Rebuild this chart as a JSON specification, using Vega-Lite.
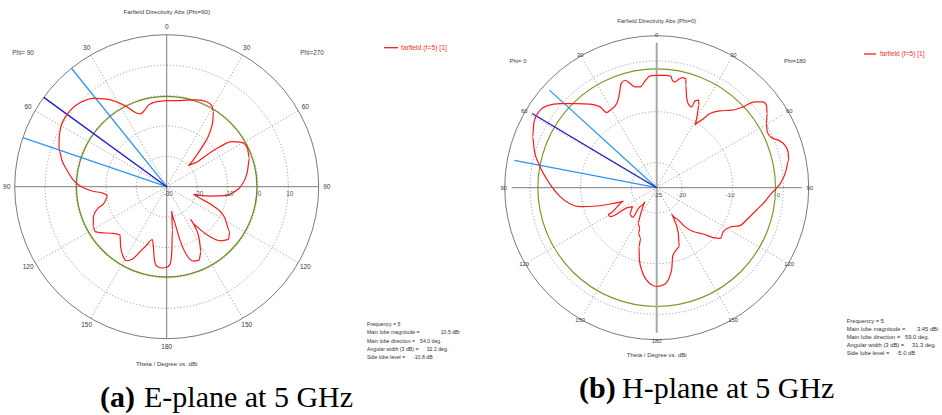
{
  "$schema": "https://vega.github.io/schema/vega-lite/v6.json",
  "padding": 0,
  "spacing": 0,
  "bounds": "flush",
  "background": "white",
  "config": {"view": {"stroke": null}, "font": "Liberation Sans"},
  "datasets": {
    "patA": [
      {"a":0,"db":-1.7},{"a":6.7,"db":-1.84},{"a":12.7,"db":-2.5},{"a":17.3,"db":-4.2},{"a":20.1,"db":-4.5},{"a":23.1,"db":-3.4},{"a":25.9,"db":-1.1},{"a":29.2,"db":1.4},{"a":34.4,"db":4.9},{"a":39.7,"db":7.8},{"a":45,"db":9.5},{"a":50.5,"db":10.4},{"a":54,"db":10.5},{"a":57,"db":10.4},{"a":60.4,"db":10.0},{"a":65.8,"db":8.8},{"a":71.2,"db":7.4},{"a":75.7,"db":5.6},{"a":80.5,"db":3.3},{"a":85.9,"db":0.8},{"a":90,"db":-2.0},{"a":93.3,"db":-5.3},{"a":96,"db":-9.1},{"a":98.5,"db":-10.4},{"a":103.7,"db":-9.1},{"a":108.4,"db":-5.7},{"a":112,"db":-4.0},{"a":118.6,"db":-2.5},{"a":122.1,"db":-2.2},{"a":124.6,"db":-3.4},{"a":131.2,"db":-6.7},{"a":136,"db":-7.9},{"a":142.5,"db":-5.1},{"a":148.2,"db":-2.9},{"a":151.6,"db":-2.3},{"a":155.1,"db":-4.0},{"a":157.7,"db":-6.9},{"a":161.1,"db":-9.7},{"a":164.8,"db":-12.0},{"a":167.5,"db":-9.8},{"a":170.5,"db":-5.5},{"a":172.8,"db":-3.7},{"a":176.5,"db":-3.2},{"a":180,"db":-3.5},{"a":182.5,"db":-4.5},{"a":184.3,"db":-8.0},{"a":187.5,"db":-15.6},{"a":191.6,"db":-21.8},{"a":192.8,"db":-17.6},{"a":194,"db":-11.9},{"a":196.3,"db":-6.6},{"a":199.7,"db":-4.0},{"a":203.8,"db":-3.6},{"a":207.8,"db":-5.8},{"a":211.5,"db":-9.4},{"a":215.3,"db":-13.9},{"a":216.3,"db":-16.7},{"a":218,"db":-12.2},{"a":220.9,"db":-8.2},{"a":224.6,"db":-5.0},{"a":229.5,"db":-3.3},{"a":234.6,"db":-4.5},{"a":241.5,"db":-8.2},{"a":247.5,"db":-13.4},{"a":250.7,"db":-18.4},{"a":254,"db":-20.9},{"a":257.8,"db":-15.4},{"a":261.2,"db":-10.6},{"a":265.1,"db":-8.0},{"a":271.3,"db":-5.3},{"a":280.5,"db":-3.0},{"a":288.9,"db":-1.25},{"a":295.4,"db":-0.6},{"a":300.6,"db":-1.3},{"a":304.7,"db":-4.0},{"a":306.9,"db":-8.1},{"a":308.4,"db":-13.2},{"a":309.1,"db":-17.3},{"a":314.1,"db":-20.1},{"a":316.5,"db":-15.6},{"a":318.7,"db":-11.7},{"a":321.3,"db":-7.5},{"a":324.7,"db":-3.8},{"a":328.1,"db":-0.9},{"a":330.9,"db":0.5},{"a":334.8,"db":0.9},{"a":340.9,"db":0.2},{"a":347,"db":-0.8},{"a":353.4,"db":-1.5},{"a":360,"db":-1.7}
    ],
    "patB": [
      {"a":0,"db":-1.74},{"a":3.4,"db":-1.83},{"a":6.2,"db":-2.78},{"a":9.4,"db":-3.86},{"a":12.1,"db":-3.67},{"a":14.3,"db":-2.77},{"a":16.4,"db":-1.83},{"a":18.9,"db":-2.23},{"a":21.6,"db":-4.05},{"a":25.4,"db":-5.73},{"a":31,"db":-6.29},{"a":33.6,"db":-6.33},{"a":35,"db":-4.59},{"a":38.5,"db":-2.91},{"a":43.5,"db":-1.0},{"a":48.9,"db":1.48},{"a":53.1,"db":3.3},{"a":56.7,"db":4.0},{"a":61.8,"db":3.8},{"a":67.7,"db":2.75},{"a":72.9,"db":1.5},{"a":78.4,"db":-0.06},{"a":84.4,"db":-1.83},{"a":89.5,"db":-3.32},{"a":95.3,"db":-4.95},{"a":100.7,"db":-6.79},{"a":103.9,"db":-8.69},{"a":107,"db":-12.05},{"a":109.3,"db":-14.8},{"a":111.8,"db":-17.6},{"a":118.6,"db":-13.5},{"a":121.9,"db":-13.65},{"a":124.3,"db":-17.7},{"a":128.4,"db":-18.7},{"a":133.9,"db":-17.2},{"a":141,"db":-17.1},{"a":138.4,"db":-19.3},{"a":140.2,"db":-21.2},{"a":148,"db":-18.8},{"a":152,"db":-16.7},{"a":157.7,"db":-15.9},{"a":158.1,"db":-14.8},{"a":162.5,"db":-14.0},{"a":163.3,"db":-12.3},{"a":166.5,"db":-9.65},{"a":169.8,"db":-7.6},{"a":173.9,"db":-5.7},{"a":178.1,"db":-4.7},{"a":180,"db":-4.56},{"a":184.9,"db":-5.0},{"a":190.3,"db":-7.7},{"a":193.1,"db":-10.4},{"a":198,"db":-11.6},{"a":201,"db":-11.95},{"a":205.4,"db":-14.6},{"a":208.3,"db":-17.0},{"a":209.4,"db":-18.7},{"a":213.8,"db":-17.0},{"a":216,"db":-15.05},{"a":219.8,"db":-13.2},{"a":225.2,"db":-11.4},{"a":228.6,"db":-9.4},{"a":231.6,"db":-8.15},{"a":236.6,"db":-8.5},{"a":241.6,"db":-7.8},{"a":245.5,"db":-6.1},{"a":251.5,"db":-5.04},{"a":257.4,"db":-3.84},{"a":262.6,"db":-2.45},{"a":267.2,"db":-1.23},{"a":269.7,"db":-0.22},{"a":272.7,"db":0.84},{"a":277.1,"db":1.9},{"a":281.8,"db":2.91},{"a":285.3,"db":3.18},{"a":288.4,"db":2.92},{"a":291.4,"db":1.98},{"a":293.6,"db":0.92},{"a":296.8,"db":0.61},{"a":300.3,"db":1.31},{"a":303.9,"db":2.53},{"a":306.9,"db":3.41},{"a":308.9,"db":3.29},{"a":311.2,"db":1.97},{"a":313.1,"db":-0.51},{"a":316,"db":-2.71},{"a":320.6,"db":-4.41},{"a":324.3,"db":-6.1},{"a":326.4,"db":-8.2},{"a":328.5,"db":-9.83},{"a":330.8,"db":-7.8},{"a":332.9,"db":-5.83},{"a":334.4,"db":-4.93},{"a":336.2,"db":-5.37},{"a":336.6,"db":-6.78},{"a":338.6,"db":-6.67},{"a":341.8,"db":-5.21},{"a":344.1,"db":-2.96},{"a":345,"db":-1.63},{"a":346.7,"db":-1.59},{"a":348.7,"db":-2.19},{"a":350.2,"db":-2.79},{"a":351.7,"db":-2.54},{"a":352.7,"db":-1.76},{"a":355.8,"db":-1.68},{"a":360,"db":-1.74}
    ],
    "ringsA": [{"db":-20,"k":"grid"},{"db":-10,"k":"grid"},{"db":0,"k":"grid"},{"db":10,"k":"grid"},{"db":20,"k":"outer"},{"db":-0.3,"k":"sll"}],
    "ringsB": [{"db":-20,"k":"grid"},{"db":-10,"k":"grid"},{"db":0,"k":"grid"},{"db":5,"k":"outer"},{"db":-1.55,"k":"sll"}],
    "spokes": [{"a":30},{"a":60},{"a":120},{"a":150},{"a":210},{"a":240},{"a":300},{"a":330}],
    "axes": [{"a":0,"k":"v"},{"a":90,"k":"h"}],
    "lobesA": [{"a":38.8,"k":"3dB"},{"a":71.2,"k":"3dB"},{"a":54,"k":"main"}],
    "lobesB": [{"a":47.7,"k":"3dB"},{"a":79.1,"k":"3dB"},{"a":59.2,"k":"main"}],
    "angles": [{"a":0,"t":"0"},{"a":30,"t":"30"},{"a":60,"t":"60"},{"a":90,"t":"90"},{"a":120,"t":"120"},{"a":150,"t":"150"},{"a":180,"t":"180"},{"a":210,"t":"150"},{"a":240,"t":"120"},{"a":270,"t":"90"},{"a":300,"t":"60"},{"a":330,"t":"30"}],
    "radA": [{"db":-30,"t":"-30"},{"db":-20,"t":"-20"},{"db":-10,"t":"-10"},{"db":0,"t":"0"},{"db":10,"t":"10"}],
    "radB": [{"db":-25,"t":"-25"},{"db":-20,"t":"-20"},{"db":-10,"t":"-10"},{"db":0,"t":"0"}],
    "infoA": [{"t":"Frequency = 5"},{"t":"Main lobe magnitude ="},{"t":"Main lobe direction ="},{"t":"Angular width (3 dB) ="},{"t":"Side lobe level ="}],
    "infoB": [{"t":"Frequency = 5"},{"t":"Main lobe magnitude ="},{"t":"Main lobe direction ="},{"t":"Angular width (3 dB) ="},{"t":"Side lobe level ="}]
  },
  "hconcat": [
    {
      "width": 471, "height": 415,
      "layer": [
        {"data": {"name": "ringsA"}, "transform": [{"filter": "datum.k=='grid'"}, {"calculate": "(datum.db+30)/50", "as": "rn"}, {"calculate": "0", "as": "c"}],
         "mark": {"type": "point", "shape": "circle", "filled": false, "opacity": 1, "stroke": "#8C8C8C", "strokeWidth": 0.8, "strokeDash": [1.2, 2]},
         "encoding": {"x": {"field": "c", "type": "quantitative", "scale": {"domain": [-1.0967, 2.002], "nice": false, "zero": false}, "axis": null}, "y": {"field": "c", "type": "quantitative", "scale": {"domain": [-1.502, 1.2283], "nice": false, "zero": false}, "axis": null}, "size": {"field": "rn", "type": "quantitative", "scale": {"type": "pow", "exponent": 2, "domain": [0, 1], "range": [0, 92416]}, "legend": null}}},
        {"data": {"name": "spokes"}, "transform": [{"calculate": "0", "as": "c"}, {"calculate": "-sin(datum.a*PI/180)", "as": "ex"}, {"calculate": "cos(datum.a*PI/180)", "as": "ey"}],
         "mark": {"type": "rule", "stroke": "#8C8C8C", "strokeWidth": 0.8, "strokeDash": [1.2, 2]},
         "encoding": {"x": {"field": "c", "type": "quantitative", "scale": {"domain": [-1.0967, 2.002], "nice": false, "zero": false}, "axis": null}, "y": {"field": "c", "type": "quantitative", "scale": {"domain": [-1.502, 1.2283], "nice": false, "zero": false}, "axis": null}, "x2": {"field": "ex"}, "y2": {"field": "ey"}}},
        {"data": {"name": "ringsA"}, "transform": [{"filter": "datum.k=='sll'"}, {"calculate": "(datum.db+30)/50", "as": "rn"}, {"calculate": "0", "as": "c"}],
         "mark": {"type": "point", "shape": "circle", "filled": false, "opacity": 1, "stroke": "#6B8E23", "strokeWidth": 1.3},
         "encoding": {"x": {"field": "c", "type": "quantitative", "scale": {"domain": [-1.0967, 2.002], "nice": false, "zero": false}, "axis": null}, "y": {"field": "c", "type": "quantitative", "scale": {"domain": [-1.502, 1.2283], "nice": false, "zero": false}, "axis": null}, "size": {"field": "rn", "type": "quantitative", "scale": {"type": "pow", "exponent": 2, "domain": [0, 1], "range": [0, 92416]}, "legend": null}}},
        {"data": {"name": "ringsA"}, "transform": [{"filter": "datum.k=='outer'"}, {"calculate": "(datum.db+30)/50", "as": "rn"}, {"calculate": "0", "as": "c"}],
         "mark": {"type": "point", "shape": "circle", "filled": false, "opacity": 1, "stroke": "#7A7A7A", "strokeWidth": 1},
         "encoding": {"x": {"field": "c", "type": "quantitative", "scale": {"domain": [-1.0967, 2.002], "nice": false, "zero": false}, "axis": null}, "y": {"field": "c", "type": "quantitative", "scale": {"domain": [-1.502, 1.2283], "nice": false, "zero": false}, "axis": null}, "size": {"field": "rn", "type": "quantitative", "scale": {"type": "pow", "exponent": 2, "domain": [0, 1], "range": [0, 92416]}, "legend": null}}},
        {"data": {"name": "axes"}, "transform": [{"calculate": "sin(datum.a*PI/180)", "as": "sx"}, {"calculate": "-cos(datum.a*PI/180)", "as": "sy"}, {"calculate": "-sin(datum.a*PI/180)", "as": "ex"}, {"calculate": "cos(datum.a*PI/180)", "as": "ey"}],
         "mark": {"type": "rule", "stroke": "#7A7A7A", "strokeWidth": 1},
         "encoding": {"x": {"field": "sx", "type": "quantitative", "scale": {"domain": [-1.0967, 2.002], "nice": false, "zero": false}, "axis": null}, "y": {"field": "sy", "type": "quantitative", "scale": {"domain": [-1.502, 1.2283], "nice": false, "zero": false}, "axis": null}, "x2": {"field": "ex"}, "y2": {"field": "ey"}}},
        {"data": {"name": "lobesA"}, "transform": [{"calculate": "0", "as": "c"}, {"calculate": "-sin(datum.a*PI/180)", "as": "ex"}, {"calculate": "cos(datum.a*PI/180)", "as": "ey"}],
         "mark": {"type": "rule", "strokeWidth": 1.3},
         "encoding": {"x": {"field": "c", "type": "quantitative", "scale": {"domain": [-1.0967, 2.002], "nice": false, "zero": false}, "axis": null}, "y": {"field": "c", "type": "quantitative", "scale": {"domain": [-1.502, 1.2283], "nice": false, "zero": false}, "axis": null}, "x2": {"field": "ex"}, "y2": {"field": "ey"}, "color": {"field": "k", "type": "nominal", "scale": {"domain": ["3dB", "main"], "range": ["#2E96F0", "#1A1ACD"]}, "legend": null}}},
        {"data": {"name": "patA"}, "transform": [{"window": [{"op": "row_number", "as": "i"}]}, {"calculate": "(datum.db+30)/50", "as": "rn"}, {"calculate": "-datum.rn*sin(datum.a*PI/180)", "as": "x"}, {"calculate": "datum.rn*cos(datum.a*PI/180)", "as": "y"}],
         "mark": {"type": "line", "stroke": "#FF1A1A", "strokeWidth": 1.2, "interpolate": "monotone"},
         "encoding": {"x": {"field": "x", "type": "quantitative", "scale": {"domain": [-1.0967, 2.002], "nice": false, "zero": false}, "axis": null}, "y": {"field": "y", "type": "quantitative", "scale": {"domain": [-1.502, 1.2283], "nice": false, "zero": false}, "axis": null}, "order": {"field": "i", "type": "quantitative"}}},
        {"data": {"name": "angles"}, "transform": [{"calculate": "-1.053*sin(datum.a*PI/180)", "as": "x"}, {"calculate": "1.053*cos(datum.a*PI/180)", "as": "y"}],
         "mark": {"type": "text", "fontSize": 6.5, "color": "#3A3A3A", "align": "center", "baseline": "middle"},
         "encoding": {"x": {"field": "x", "type": "quantitative", "scale": {"domain": [-1.0967, 2.002], "nice": false, "zero": false}, "axis": null}, "y": {"field": "y", "type": "quantitative", "scale": {"domain": [-1.502, 1.2283], "nice": false, "zero": false}, "axis": null}, "text": {"field": "t", "type": "nominal"}}},
        {"data": {"name": "radA"}, "transform": [{"calculate": "(datum.db+30)/50", "as": "rn"}, {"calculate": "0", "as": "c"}],
         "mark": {"type": "text", "fontSize": 6.3, "color": "#4A5568", "align": "center", "baseline": "middle", "dx": 1.5, "dy": 7.5},
         "encoding": {"x": {"field": "rn", "type": "quantitative", "scale": {"domain": [-1.0967, 2.002], "nice": false, "zero": false}, "axis": null}, "y": {"field": "c", "type": "quantitative", "scale": {"domain": [-1.502, 1.2283], "nice": false, "zero": false}, "axis": null}, "text": {"field": "t", "type": "nominal"}}},
        {"data": {"values": [{"t": "Farfield Directivity Abs (Phi=90)"}]}, "transform": [{"calculate": "0", "as": "x"}, {"calculate": "1.1493", "as": "y"}],
         "mark": {"type": "text", "fontSize": 6.2, "color": "#3A3A3A", "align": "center", "baseline": "middle"},
         "encoding": {"x": {"field": "x", "type": "quantitative", "scale": {"domain": [-1.0967, 2.002], "nice": false, "zero": false}, "axis": null}, "y": {"field": "y", "type": "quantitative", "scale": {"domain": [-1.502, 1.2283], "nice": false, "zero": false}, "axis": null}, "text": {"field": "t", "type": "nominal"}}},
        {"data": {"values": [{"t": "Phi= 90"}]}, "transform": [{"calculate": "-0.9454", "as": "x"}, {"calculate": "0.8796", "as": "y"}],
         "mark": {"type": "text", "fontSize": 6.3, "color": "#3A3A3A", "align": "center", "baseline": "middle"},
         "encoding": {"x": {"field": "x", "type": "quantitative", "scale": {"domain": [-1.0967, 2.002], "nice": false, "zero": false}, "axis": null}, "y": {"field": "y", "type": "quantitative", "scale": {"domain": [-1.502, 1.2283], "nice": false, "zero": false}, "axis": null}, "text": {"field": "t", "type": "nominal"}}},
        {"data": {"values": [{"t": "Phi=270"}]}, "transform": [{"calculate": "0.9559", "as": "x"}, {"calculate": "0.8796", "as": "y"}],
         "mark": {"type": "text", "fontSize": 6.3, "color": "#3A3A3A", "align": "center", "baseline": "middle"},
         "encoding": {"x": {"field": "x", "type": "quantitative", "scale": {"domain": [-1.0967, 2.002], "nice": false, "zero": false}, "axis": null}, "y": {"field": "y", "type": "quantitative", "scale": {"domain": [-1.502, 1.2283], "nice": false, "zero": false}, "axis": null}, "text": {"field": "t", "type": "nominal"}}},
        {"data": {"values": [{"t": "Theta / Degree vs. dBi"}]}, "transform": [{"calculate": "0", "as": "x"}, {"calculate": "-1.1664", "as": "y"}],
         "mark": {"type": "text", "fontSize": 6.2, "color": "#3A3A3A", "align": "center", "baseline": "middle"},
         "encoding": {"x": {"field": "x", "type": "quantitative", "scale": {"domain": [-1.0967, 2.002], "nice": false, "zero": false}, "axis": null}, "y": {"field": "y", "type": "quantitative", "scale": {"domain": [-1.502, 1.2283], "nice": false, "zero": false}, "axis": null}, "text": {"field": "t", "type": "nominal"}}},
        {"data": {"values": [{"t": "legend"}]}, "transform": [{"calculate": "1.4296", "as": "x"}, {"calculate": "1.5217", "as": "x2"}, {"calculate": "0.9145", "as": "y"}],
         "mark": {"type": "rule", "stroke": "#FF1A1A", "strokeWidth": 1.3},
         "encoding": {"x": {"field": "x", "type": "quantitative", "scale": {"domain": [-1.0967, 2.002], "nice": false, "zero": false}, "axis": null}, "x2": {"field": "x2"}, "y": {"field": "y", "type": "quantitative", "scale": {"domain": [-1.502, 1.2283], "nice": false, "zero": false}, "axis": null}}},
        {"data": {"values": [{"t": "farfield (f=5) [1]"}]}, "transform": [{"calculate": "1.5414", "as": "x"}, {"calculate": "0.9145", "as": "y"}],
         "mark": {"type": "text", "fontSize": 6.8, "color": "#FF3030", "align": "left", "baseline": "middle"},
         "encoding": {"x": {"field": "x", "type": "quantitative", "scale": {"domain": [-1.0967, 2.002], "nice": false, "zero": false}, "axis": null}, "y": {"field": "y", "type": "quantitative", "scale": {"domain": [-1.502, 1.2283], "nice": false, "zero": false}, "axis": null}, "text": {"field": "t", "type": "nominal"}}},
        {"data": {"name": "infoA"}, "transform": [{"window": [{"op": "row_number", "as": "i"}]}, {"calculate": "1.3178", "as": "x"}, {"calculate": "-0.9033-(datum.i-1)*0.0548", "as": "y"}],
         "mark": {"type": "text", "fontSize": 5.2, "color": "#333333", "align": "left", "baseline": "middle"},
         "encoding": {"x": {"field": "x", "type": "quantitative", "scale": {"domain": [-1.0967, 2.002], "nice": false, "zero": false}, "axis": null}, "y": {"field": "y", "type": "quantitative", "scale": {"domain": [-1.502, 1.2283], "nice": false, "zero": false}, "axis": null}, "text": {"field": "t", "type": "nominal"}}},
        {"data": {"values": [{"t": "10.5 dBi"}]}, "transform": [{"calculate": "1.8026", "as": "x"}, {"calculate": "-0.9579", "as": "y"}],
         "mark": {"type": "text", "fontSize": 5.2, "color": "#333333", "align": "left", "baseline": "middle"},
         "encoding": {"x": {"field": "x", "type": "quantitative", "scale": {"domain": [-1.0967, 2.002], "nice": false, "zero": false}, "axis": null}, "y": {"field": "y", "type": "quantitative", "scale": {"domain": [-1.502, 1.2283], "nice": false, "zero": false}, "axis": null}, "text": {"field": "t", "type": "nominal"}}},
        {"data": {"values": [{"t": "54.0 deg."}]}, "transform": [{"calculate": "1.6665", "as": "x"}, {"calculate": "-1.0132", "as": "y"}],
         "mark": {"type": "text", "fontSize": 5.2, "color": "#333333", "align": "left", "baseline": "middle"},
         "encoding": {"x": {"field": "x", "type": "quantitative", "scale": {"domain": [-1.0967, 2.002], "nice": false, "zero": false}, "axis": null}, "y": {"field": "y", "type": "quantitative", "scale": {"domain": [-1.502, 1.2283], "nice": false, "zero": false}, "axis": null}, "text": {"field": "t", "type": "nominal"}}},
        {"data": {"values": [{"t": "32.2 deg."}]}, "transform": [{"calculate": "1.7105", "as": "x"}, {"calculate": "-1.0678", "as": "y"}],
         "mark": {"type": "text", "fontSize": 5.2, "color": "#333333", "align": "left", "baseline": "middle"},
         "encoding": {"x": {"field": "x", "type": "quantitative", "scale": {"domain": [-1.0967, 2.002], "nice": false, "zero": false}, "axis": null}, "y": {"field": "y", "type": "quantitative", "scale": {"domain": [-1.502, 1.2283], "nice": false, "zero": false}, "axis": null}, "text": {"field": "t", "type": "nominal"}}},
        {"data": {"values": [{"t": "-10.8 dB"}]}, "transform": [{"calculate": "1.6204", "as": "x"}, {"calculate": "-1.1224", "as": "y"}],
         "mark": {"type": "text", "fontSize": 5.2, "color": "#333333", "align": "left", "baseline": "middle"},
         "encoding": {"x": {"field": "x", "type": "quantitative", "scale": {"domain": [-1.0967, 2.002], "nice": false, "zero": false}, "axis": null}, "y": {"field": "y", "type": "quantitative", "scale": {"domain": [-1.502, 1.2283], "nice": false, "zero": false}, "axis": null}, "text": {"field": "t", "type": "nominal"}}},
        {"data": {"values": [{"t": "(a)"}]}, "transform": [{"calculate": "-0.4388", "as": "x"}, {"calculate": "-1.4461", "as": "y"}],
         "mark": {"type": "text", "font": "Liberation Serif", "fontSize": 30, "fontWeight": "bold", "color": "#000000", "align": "left", "baseline": "alphabetic"},
         "encoding": {"x": {"field": "x", "type": "quantitative", "scale": {"domain": [-1.0967, 2.002], "nice": false, "zero": false}, "axis": null}, "y": {"field": "y", "type": "quantitative", "scale": {"domain": [-1.502, 1.2283], "nice": false, "zero": false}, "axis": null}, "text": {"field": "t", "type": "nominal"}}},
        {"data": {"values": [{"t": "E-plane at 5 GHz"}]}, "transform": [{"calculate": "-0.1493", "as": "x"}, {"calculate": "-1.4461", "as": "y"}],
         "mark": {"type": "text", "font": "Liberation Serif", "fontSize": 30, "color": "#000000", "align": "left", "baseline": "alphabetic"},
         "encoding": {"x": {"field": "x", "type": "quantitative", "scale": {"domain": [-1.0967, 2.002], "nice": false, "zero": false}, "axis": null}, "y": {"field": "y", "type": "quantitative", "scale": {"domain": [-1.502, 1.2283], "nice": false, "zero": false}, "axis": null}, "text": {"field": "t", "type": "nominal"}}}
      ]
    },
    {
      "width": 471, "height": 415,
      "layer": [
        {"data": {"name": "ringsB"}, "transform": [{"filter": "datum.k=='grid'"}, {"calculate": "(datum.db+25)/30", "as": "rn"}, {"calculate": "0", "as": "c"}],
         "mark": {"type": "point", "shape": "circle", "filled": false, "opacity": 1, "stroke": "#8C8C8C", "strokeWidth": 0.8, "strokeDash": [1.2, 2]},
         "encoding": {"x": {"field": "c", "type": "quantitative", "scale": {"domain": [-1.2807, 1.9676], "nice": false, "zero": false}, "axis": null}, "y": {"field": "c", "type": "quantitative", "scale": {"domain": [-1.5676, 1.2945], "nice": false, "zero": false}, "axis": null}, "size": {"field": "rn", "type": "quantitative", "scale": {"type": "pow", "exponent": 2, "domain": [0, 1], "range": [0, 84100]}, "legend": null}}},
        {"data": {"name": "spokes"}, "transform": [{"calculate": "0", "as": "c"}, {"calculate": "-sin(datum.a*PI/180)", "as": "ex"}, {"calculate": "cos(datum.a*PI/180)", "as": "ey"}],
         "mark": {"type": "rule", "stroke": "#8C8C8C", "strokeWidth": 0.8, "strokeDash": [1.2, 2]},
         "encoding": {"x": {"field": "c", "type": "quantitative", "scale": {"domain": [-1.2807, 1.9676], "nice": false, "zero": false}, "axis": null}, "y": {"field": "c", "type": "quantitative", "scale": {"domain": [-1.5676, 1.2945], "nice": false, "zero": false}, "axis": null}, "x2": {"field": "ex"}, "y2": {"field": "ey"}}},
        {"data": {"name": "ringsB"}, "transform": [{"filter": "datum.k=='sll'"}, {"calculate": "(datum.db+25)/30", "as": "rn"}, {"calculate": "0", "as": "c"}],
         "mark": {"type": "point", "shape": "circle", "filled": false, "opacity": 1, "stroke": "#7A9A2E", "strokeWidth": 1.2},
         "encoding": {"x": {"field": "c", "type": "quantitative", "scale": {"domain": [-1.2807, 1.9676], "nice": false, "zero": false}, "axis": null}, "y": {"field": "c", "type": "quantitative", "scale": {"domain": [-1.5676, 1.2945], "nice": false, "zero": false}, "axis": null}, "size": {"field": "rn", "type": "quantitative", "scale": {"type": "pow", "exponent": 2, "domain": [0, 1], "range": [0, 84100]}, "legend": null}}},
        {"data": {"name": "ringsB"}, "transform": [{"filter": "datum.k=='outer'"}, {"calculate": "(datum.db+25)/30", "as": "rn"}, {"calculate": "0", "as": "c"}],
         "mark": {"type": "point", "shape": "circle", "filled": false, "opacity": 1, "stroke": "#7A7A7A", "strokeWidth": 1},
         "encoding": {"x": {"field": "c", "type": "quantitative", "scale": {"domain": [-1.2807, 1.9676], "nice": false, "zero": false}, "axis": null}, "y": {"field": "c", "type": "quantitative", "scale": {"domain": [-1.5676, 1.2945], "nice": false, "zero": false}, "axis": null}, "size": {"field": "rn", "type": "quantitative", "scale": {"type": "pow", "exponent": 2, "domain": [0, 1], "range": [0, 84100]}, "legend": null}}},
        {"data": {"name": "axes"}, "transform": [{"filter": "datum.k=='h'"}, {"calculate": "sin(datum.a*PI/180)", "as": "sx"}, {"calculate": "-cos(datum.a*PI/180)", "as": "sy"}, {"calculate": "-sin(datum.a*PI/180)", "as": "ex"}, {"calculate": "cos(datum.a*PI/180)", "as": "ey"}],
         "mark": {"type": "rule", "stroke": "#7A7A7A", "strokeWidth": 1},
         "encoding": {"x": {"field": "sx", "type": "quantitative", "scale": {"domain": [-1.2807, 1.9676], "nice": false, "zero": false}, "axis": null}, "y": {"field": "sy", "type": "quantitative", "scale": {"domain": [-1.5676, 1.2945], "nice": false, "zero": false}, "axis": null}, "x2": {"field": "ex"}, "y2": {"field": "ey"}}},
        {"data": {"name": "axes"}, "transform": [{"filter": "datum.k=='v'"}, {"calculate": "sin(datum.a*PI/180)", "as": "sx"}, {"calculate": "-cos(datum.a*PI/180)", "as": "sy"}, {"calculate": "-sin(datum.a*PI/180)", "as": "ex"}, {"calculate": "cos(datum.a*PI/180)", "as": "ey"}],
         "mark": {"type": "rule", "stroke": "#A8A8A8", "strokeWidth": 2},
         "encoding": {"x": {"field": "sx", "type": "quantitative", "scale": {"domain": [-1.2807, 1.9676], "nice": false, "zero": false}, "axis": null}, "y": {"field": "sy", "type": "quantitative", "scale": {"domain": [-1.5676, 1.2945], "nice": false, "zero": false}, "axis": null}, "x2": {"field": "ex"}, "y2": {"field": "ey"}}},
        {"data": {"name": "lobesB"}, "transform": [{"calculate": "0", "as": "c"}, {"calculate": "-sin(datum.a*PI/180)", "as": "ex"}, {"calculate": "cos(datum.a*PI/180)", "as": "ey"}],
         "mark": {"type": "rule", "strokeWidth": 1.3},
         "encoding": {"x": {"field": "c", "type": "quantitative", "scale": {"domain": [-1.2807, 1.9676], "nice": false, "zero": false}, "axis": null}, "y": {"field": "c", "type": "quantitative", "scale": {"domain": [-1.5676, 1.2945], "nice": false, "zero": false}, "axis": null}, "x2": {"field": "ex"}, "y2": {"field": "ey"}, "color": {"field": "k", "type": "nominal", "scale": {"domain": ["3dB", "main"], "range": ["#2E96F0", "#1A1ACD"]}, "legend": null}}},
        {"data": {"name": "patB"}, "transform": [{"window": [{"op": "row_number", "as": "i"}]}, {"calculate": "(datum.db+25)/30", "as": "rn"}, {"calculate": "-datum.rn*sin(datum.a*PI/180)", "as": "x"}, {"calculate": "datum.rn*cos(datum.a*PI/180)", "as": "y"}],
         "mark": {"type": "line", "stroke": "#FF1A1A", "strokeWidth": 1.2, "interpolate": "monotone"},
         "encoding": {"x": {"field": "x", "type": "quantitative", "scale": {"domain": [-1.2807, 1.9676], "nice": false, "zero": false}, "axis": null}, "y": {"field": "y", "type": "quantitative", "scale": {"domain": [-1.5676, 1.2945], "nice": false, "zero": false}, "axis": null}, "order": {"field": "i", "type": "quantitative"}}},
        {"data": {"name": "angles"}, "transform": [{"calculate": "-1.055*sin(datum.a*PI/180)", "as": "x"}, {"calculate": "1.055*cos(datum.a*PI/180)", "as": "y"}],
         "mark": {"type": "text", "fontSize": 5.9, "color": "#3A3A3A", "align": "center", "baseline": "middle"},
         "encoding": {"x": {"field": "x", "type": "quantitative", "scale": {"domain": [-1.2807, 1.9676], "nice": false, "zero": false}, "axis": null}, "y": {"field": "y", "type": "quantitative", "scale": {"domain": [-1.5676, 1.2945], "nice": false, "zero": false}, "axis": null}, "text": {"field": "t", "type": "nominal"}}},
        {"data": {"name": "radB"}, "transform": [{"calculate": "(datum.db+25)/30", "as": "rn"}, {"calculate": "0", "as": "c"}],
         "mark": {"type": "text", "fontSize": 6, "color": "#4A5568", "align": "center", "baseline": "middle", "dx": 1, "dy": 6.8},
         "encoding": {"x": {"field": "rn", "type": "quantitative", "scale": {"domain": [-1.2807, 1.9676], "nice": false, "zero": false}, "axis": null}, "y": {"field": "c", "type": "quantitative", "scale": {"domain": [-1.5676, 1.2945], "nice": false, "zero": false}, "axis": null}, "text": {"field": "t", "type": "nominal"}}},
        {"data": {"values": [{"t": "Farfield Directivity Abs (Phi=0)"}]}, "transform": [{"calculate": "0", "as": "x"}, {"calculate": "1.1497", "as": "y"}],
         "mark": {"type": "text", "fontSize": 5.9, "color": "#3A3A3A", "align": "center", "baseline": "middle"},
         "encoding": {"x": {"field": "x", "type": "quantitative", "scale": {"domain": [-1.2807, 1.9676], "nice": false, "zero": false}, "axis": null}, "y": {"field": "y", "type": "quantitative", "scale": {"domain": [-1.5676, 1.2945], "nice": false, "zero": false}, "axis": null}, "text": {"field": "t", "type": "nominal"}}},
        {"data": {"values": [{"t": "Phi= 0"}]}, "transform": [{"calculate": "-0.9566", "as": "x"}, {"calculate": "0.8738", "as": "y"}],
         "mark": {"type": "text", "fontSize": 5.9, "color": "#3A3A3A", "align": "center", "baseline": "middle"},
         "encoding": {"x": {"field": "x", "type": "quantitative", "scale": {"domain": [-1.2807, 1.9676], "nice": false, "zero": false}, "axis": null}, "y": {"field": "y", "type": "quantitative", "scale": {"domain": [-1.5676, 1.2945], "nice": false, "zero": false}, "axis": null}, "text": {"field": "t", "type": "nominal"}}},
        {"data": {"values": [{"t": "Phi=180"}]}, "transform": [{"calculate": "0.9538", "as": "x"}, {"calculate": "0.8738", "as": "y"}],
         "mark": {"type": "text", "fontSize": 5.9, "color": "#3A3A3A", "align": "center", "baseline": "middle"},
         "encoding": {"x": {"field": "x", "type": "quantitative", "scale": {"domain": [-1.2807, 1.9676], "nice": false, "zero": false}, "axis": null}, "y": {"field": "y", "type": "quantitative", "scale": {"domain": [-1.5676, 1.2945], "nice": false, "zero": false}, "axis": null}, "text": {"field": "t", "type": "nominal"}}},
        {"data": {"values": [{"t": "Theta / Degree vs. dBi"}]}, "transform": [{"calculate": "0", "as": "x"}, {"calculate": "-1.1559", "as": "y"}],
         "mark": {"type": "text", "fontSize": 6, "color": "#3A3A3A", "align": "center", "baseline": "middle"},
         "encoding": {"x": {"field": "x", "type": "quantitative", "scale": {"domain": [-1.2807, 1.9676], "nice": false, "zero": false}, "axis": null}, "y": {"field": "y", "type": "quantitative", "scale": {"domain": [-1.5676, 1.2945], "nice": false, "zero": false}, "axis": null}, "text": {"field": "t", "type": "nominal"}}},
        {"data": {"values": [{"t": "legend"}]}, "transform": [{"calculate": "1.4297", "as": "x"}, {"calculate": "1.5124", "as": "x2"}, {"calculate": "0.9221", "as": "y"}],
         "mark": {"type": "rule", "stroke": "#FF1A1A", "strokeWidth": 1.3},
         "encoding": {"x": {"field": "x", "type": "quantitative", "scale": {"domain": [-1.2807, 1.9676], "nice": false, "zero": false}, "axis": null}, "x2": {"field": "x2"}, "y": {"field": "y", "type": "quantitative", "scale": {"domain": [-1.5676, 1.2945], "nice": false, "zero": false}, "axis": null}}},
        {"data": {"values": [{"t": "farfield (f=5) [1]"}]}, "transform": [{"calculate": "1.54", "as": "x"}, {"calculate": "0.9221", "as": "y"}],
         "mark": {"type": "text", "fontSize": 6.6, "color": "#FF3030", "align": "left", "baseline": "middle"},
         "encoding": {"x": {"field": "x", "type": "quantitative", "scale": {"domain": [-1.2807, 1.9676], "nice": false, "zero": false}, "axis": null}, "y": {"field": "y", "type": "quantitative", "scale": {"domain": [-1.5676, 1.2945], "nice": false, "zero": false}, "axis": null}, "text": {"field": "t", "type": "nominal"}}},
        {"data": {"name": "infoB"}, "transform": [{"window": [{"op": "row_number", "as": "i"}]}, {"calculate": "1.3103", "as": "x"}, {"calculate": "-0.9193-(datum.i-1)*0.0559", "as": "y"}],
         "mark": {"type": "text", "fontSize": 5.8, "color": "#333333", "align": "left", "baseline": "middle"},
         "encoding": {"x": {"field": "x", "type": "quantitative", "scale": {"domain": [-1.2807, 1.9676], "nice": false, "zero": false}, "axis": null}, "y": {"field": "y", "type": "quantitative", "scale": {"domain": [-1.5676, 1.2945], "nice": false, "zero": false}, "axis": null}, "text": {"field": "t", "type": "nominal"}}},
        {"data": {"values": [{"t": "3.45 dBi"}]}, "transform": [{"calculate": "1.7952", "as": "x"}, {"calculate": "-0.9752", "as": "y"}],
         "mark": {"type": "text", "fontSize": 5.8, "color": "#333333", "align": "left", "baseline": "middle"},
         "encoding": {"x": {"field": "x", "type": "quantitative", "scale": {"domain": [-1.2807, 1.9676], "nice": false, "zero": false}, "axis": null}, "y": {"field": "y", "type": "quantitative", "scale": {"domain": [-1.5676, 1.2945], "nice": false, "zero": false}, "axis": null}, "text": {"field": "t", "type": "nominal"}}},
        {"data": {"values": [{"t": "59.0 deg."}]}, "transform": [{"calculate": "1.7124", "as": "x"}, {"calculate": "-1.031", "as": "y"}],
         "mark": {"type": "text", "fontSize": 5.8, "color": "#333333", "align": "left", "baseline": "middle"},
         "encoding": {"x": {"field": "x", "type": "quantitative", "scale": {"domain": [-1.2807, 1.9676], "nice": false, "zero": false}, "axis": null}, "y": {"field": "y", "type": "quantitative", "scale": {"domain": [-1.5676, 1.2945], "nice": false, "zero": false}, "axis": null}, "text": {"field": "t", "type": "nominal"}}},
        {"data": {"values": [{"t": "31.3 deg."}]}, "transform": [{"calculate": "1.7607", "as": "x"}, {"calculate": "-1.0869", "as": "y"}],
         "mark": {"type": "text", "fontSize": 5.8, "color": "#333333", "align": "left", "baseline": "middle"},
         "encoding": {"x": {"field": "x", "type": "quantitative", "scale": {"domain": [-1.2807, 1.9676], "nice": false, "zero": false}, "axis": null}, "y": {"field": "y", "type": "quantitative", "scale": {"domain": [-1.5676, 1.2945], "nice": false, "zero": false}, "axis": null}, "text": {"field": "t", "type": "nominal"}}},
        {"data": {"values": [{"t": "-5.0 dB"}]}, "transform": [{"calculate": "1.6531", "as": "x"}, {"calculate": "-1.1428", "as": "y"}],
         "mark": {"type": "text", "fontSize": 5.8, "color": "#333333", "align": "left", "baseline": "middle"},
         "encoding": {"x": {"field": "x", "type": "quantitative", "scale": {"domain": [-1.2807, 1.9676], "nice": false, "zero": false}, "axis": null}, "y": {"field": "y", "type": "quantitative", "scale": {"domain": [-1.5676, 1.2945], "nice": false, "zero": false}, "axis": null}, "text": {"field": "t", "type": "nominal"}}},
        {"data": {"values": [{"t": "(b)"}]}, "transform": [{"calculate": "-0.5359", "as": "x"}, {"calculate": "-1.4490", "as": "y"}],
         "mark": {"type": "text", "font": "Liberation Serif", "fontSize": 30, "fontWeight": "bold", "color": "#000000", "align": "left", "baseline": "alphabetic"},
         "encoding": {"x": {"field": "x", "type": "quantitative", "scale": {"domain": [-1.2807, 1.9676], "nice": false, "zero": false}, "axis": null}, "y": {"field": "y", "type": "quantitative", "scale": {"domain": [-1.5676, 1.2945], "nice": false, "zero": false}, "axis": null}, "text": {"field": "t", "type": "nominal"}}},
        {"data": {"values": [{"t": "H-plane at 5 GHz"}]}, "transform": [{"calculate": "-0.2393", "as": "x"}, {"calculate": "-1.4490", "as": "y"}],
         "mark": {"type": "text", "font": "Liberation Serif", "fontSize": 30, "color": "#000000", "align": "left", "baseline": "alphabetic"},
         "encoding": {"x": {"field": "x", "type": "quantitative", "scale": {"domain": [-1.2807, 1.9676], "nice": false, "zero": false}, "axis": null}, "y": {"field": "y", "type": "quantitative", "scale": {"domain": [-1.5676, 1.2945], "nice": false, "zero": false}, "axis": null}, "text": {"field": "t", "type": "nominal"}}}
      ]
    }
  ]
}
